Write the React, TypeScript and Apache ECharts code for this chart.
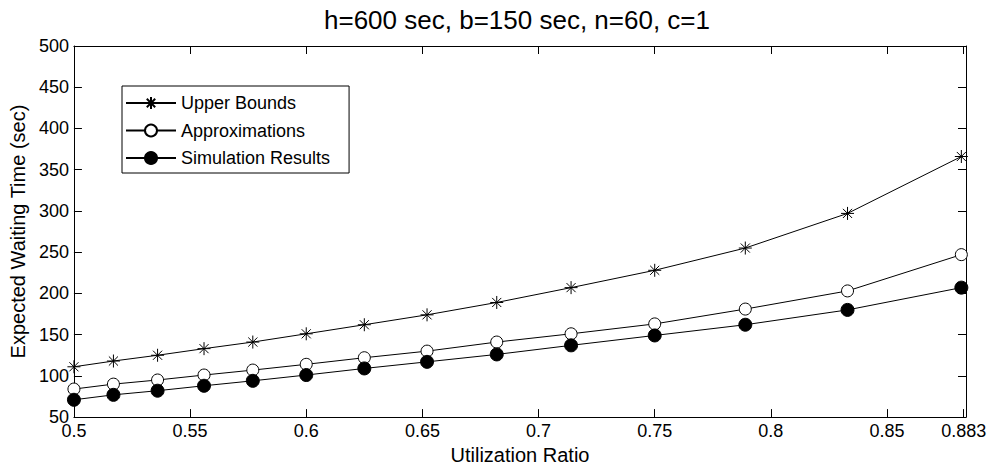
import React, { useEffect, useRef } from "react";
import * as echarts from "echarts";

const utilization = [0.5, 0.517, 0.536, 0.556, 0.577, 0.6, 0.625, 0.652, 0.682, 0.714, 0.75, 0.789, 0.833, 0.882];
const upperBounds = [111, 118, 125, 133, 141, 151, 162, 174, 189, 207, 228, 255, 297, 366];
const approximations = [84, 90, 95, 101, 107, 114, 122, 130, 141, 151, 163, 181, 203, 247];
const simulationResults = [71, 77, 82, 88, 94, 101, 109, 117, 126, 137, 149, 162, 180, 207];
const xTickValues = [0.5, 0.55, 0.6, 0.65, 0.7, 0.75, 0.8, 0.85, 0.883];
const seriesNames = ["Upper Bounds", "Approximations", "Simulation Results"];
const titleText = "h=600 sec, b=150 sec, n=60, c=1";
const xAxisName = "Utilization Ratio";
const yAxisName = "Expected Waiting Time (sec)";

const FONT = "'Liberation Sans', Arial, Helvetica, sans-serif";
const STAR = "path://M10 0L10 20M0 10L20 10M3 3L17 17M3 17L17 3";

function pairs(ys: number[]) {
  return ys.map((y, i) => [utilization[i], y]);
}

export default function App() {
  const ref = useRef<HTMLDivElement>(null);
  useEffect(() => {
    document.body.style.margin = "0";
    if (!ref.current) return;
    const chart = echarts.init(ref.current, undefined, { renderer: "svg" });
    const fmt = (v: number) => String(Number(Number(v).toFixed(3)));
    const tickStyle = { show: true, inside: true, length: 8, lineStyle: { color: "#000", width: 1 } };
    chart.setOption({
      animation: false,
      backgroundColor: "#fff",
      title: {
        text: titleText,
        left: 517,
        top: 7,
        padding: 0,
        textAlign: "center",
        textStyle: { fontFamily: FONT, fontSize: 26, fontWeight: "normal", color: "#000" },
      },
      legend: {
        orient: "vertical",
        left: 122,
        top: 86,
        padding: [8, 19, 6, 3],
        itemWidth: 50,
        itemHeight: 15,
        itemGap: 9.5,
        borderColor: "#000",
        borderWidth: 1,
        borderRadius: 0,
        backgroundColor: "#fff",
        data: seriesNames,
        textStyle: { fontFamily: FONT, fontSize: 18, color: "#000", lineHeight: 18 },
      },
      grid: { left: 73, right: 24, top: 46, bottom: 51, containLabel: false },
      xAxis: [
        {
          type: "value",
          min: 0.5,
          max: 0.884,
          name: xAxisName,
          nameLocation: "middle",
          nameGap: 27,
          nameTextStyle: { fontFamily: FONT, fontSize: 20, color: "#000" },
          axisLine: { show: true, lineStyle: { color: "#000", width: 1 } },
          axisTick: { ...tickStyle, customValues: xTickValues },
          axisLabel: {
            customValues: xTickValues,
            formatter: fmt,
            margin: 5,
            fontFamily: FONT,
            fontSize: 18,
            color: "#000",
          },
          splitLine: { show: false },
        },
        {
          type: "value",
          position: "top",
          min: 0.5,
          max: 0.884,
          axisLine: { show: true, lineStyle: { color: "#000", width: 1 } },
          axisTick: { ...tickStyle, customValues: xTickValues },
          axisLabel: { show: false, customValues: xTickValues },
          splitLine: { show: false },
        },
      ],
      yAxis: [
        {
          type: "value",
          min: 50,
          max: 500,
          interval: 50,
          name: yAxisName,
          nameLocation: "middle",
          nameGap: 42,
          nameTextStyle: { fontFamily: FONT, fontSize: 20, color: "#000" },
          axisLine: { show: true, lineStyle: { color: "#000", width: 1 } },
          axisTick: tickStyle,
          axisLabel: { margin: 5, fontFamily: FONT, fontSize: 18, color: "#000" },
          splitLine: { show: false },
        },
        {
          type: "value",
          position: "right",
          min: 50,
          max: 500,
          interval: 50,
          axisLine: { show: true, lineStyle: { color: "#000", width: 1 } },
          axisTick: tickStyle,
          axisLabel: { show: false },
          splitLine: { show: false },
        },
      ],
      series: [
        {
          name: seriesNames[0],
          type: "line",
          data: pairs(upperBounds),
          color: "#000",
          symbol: STAR,
          symbolSize: 13,
          showAllSymbol: true,
          lineStyle: { color: "#000", width: 1 },
          itemStyle: { color: "#000", borderColor: "#000", borderWidth: 1 },
          clip: false,
        },
        {
          name: seriesNames[1],
          type: "line",
          data: pairs(approximations),
          color: "#000",
          symbol: "circle",
          symbolSize: 12,
          showAllSymbol: true,
          lineStyle: { color: "#000", width: 1 },
          itemStyle: { color: "#fff", borderColor: "#000", borderWidth: 1 },
          clip: false,
        },
        {
          name: seriesNames[2],
          type: "line",
          data: pairs(simulationResults),
          color: "#000",
          symbol: "circle",
          symbolSize: 13,
          showAllSymbol: true,
          lineStyle: { color: "#000", width: 1 },
          itemStyle: { color: "#000", borderColor: "#000", borderWidth: 1 },
          clip: false,
        },
      ],
    });
    return () => chart.dispose();
  }, []);
  return <div ref={ref} style={{ width: 990, height: 470 }} />;
}
